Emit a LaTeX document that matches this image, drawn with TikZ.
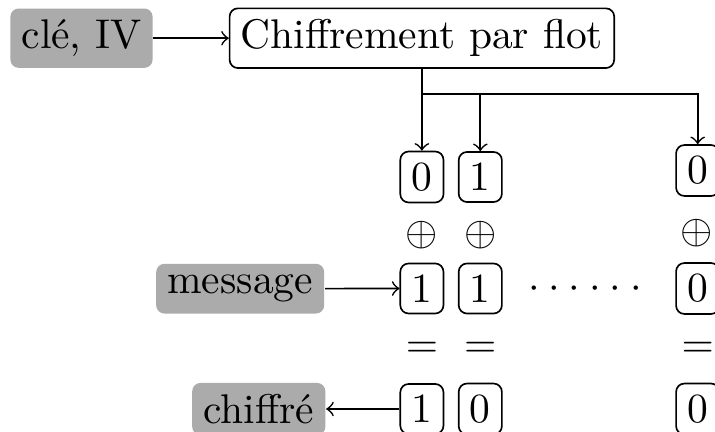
\documentclass[tikz,border=0pt]{standalone}
\begin{document}
\tikzset{
  graybox/.style={fill=black!33, rounded corners=2pt, inner sep=2.7pt},
  whitebox/.style={draw, rounded corners=2pt, inner sep=2.7pt},
  bitbox/.style={draw, rounded corners=2pt, inner sep=2.7pt},
  opsym/.style={inner sep=0pt, anchor=base},
}
\begin{tikzpicture}[x=0.241pt,y=-0.241pt,>=to]
\useasboundingbox (0,0) rectangle (715,432);
\clip (0,0) rectangle (715,432);
% top row
\node[graybox] (key) at (81.5,38.2) {clé, IV};
\node[whitebox] (chif) at (421.9,38.2) {Chiffrement par flot};
% keystream bits
\node[bitbox] (k1) at (421.9,177) {0};
\node[bitbox] (k2) at (480.3,177) {1};
\node[bitbox] (k3) at (697.7,170.5) {0};
% xor
\node[opsym] (x1) at (421.9,245.4) {$\oplus$};
\node[opsym] (x2) at (480.3,245.4) {$\oplus$};
\node[opsym] (x3) at (696.5,243.4) {$\oplus$};
% message bits
\node[graybox] (msg) at (240.2,288.7) {message};
\node[bitbox] (m1) at (421.9,288.5) {1};
\node[bitbox] (m2) at (480.3,288.5) {1};
\node[bitbox] (m3) at (697.7,288.5) {0};
\node[inner sep=0pt, anchor=base] (dots) at (585,298.1)
  {${\cdot}\hspace{2.14pt}{\cdot}\hspace{2.14pt}{\cdot}\hspace{2.14pt}{\cdot}\hspace{2.14pt}{\cdot}\hspace{2.14pt}{\cdot}$};
% equals
\node[opsym] (e1) at (421.9,357.4) {$=$};
\node[opsym] (e2) at (480.3,357.4) {$=$};
\node[opsym] (e3) at (697.7,357.4) {$=$};
% cipher bits
\node[graybox] (ct) at (258.8,409) {chiffré};
\node[bitbox] (c1) at (421.9,409) {1};
\node[bitbox] (c2) at (480.3,409) {0};
\node[bitbox] (c3) at (697.7,409) {0};
% connectors
\coordinate (br) at (421.9,94.3);
\draw[->] (key) -- (chif);
\draw[->] (chif.south) -- (k1.north);
\draw[->] (br) -| (k2.north);
\draw[->] (br) -| (k3.north);
\draw[->] (msg) -- (m1);
\draw[->] (c1) -- (ct);
\end{tikzpicture}
\end{document}
